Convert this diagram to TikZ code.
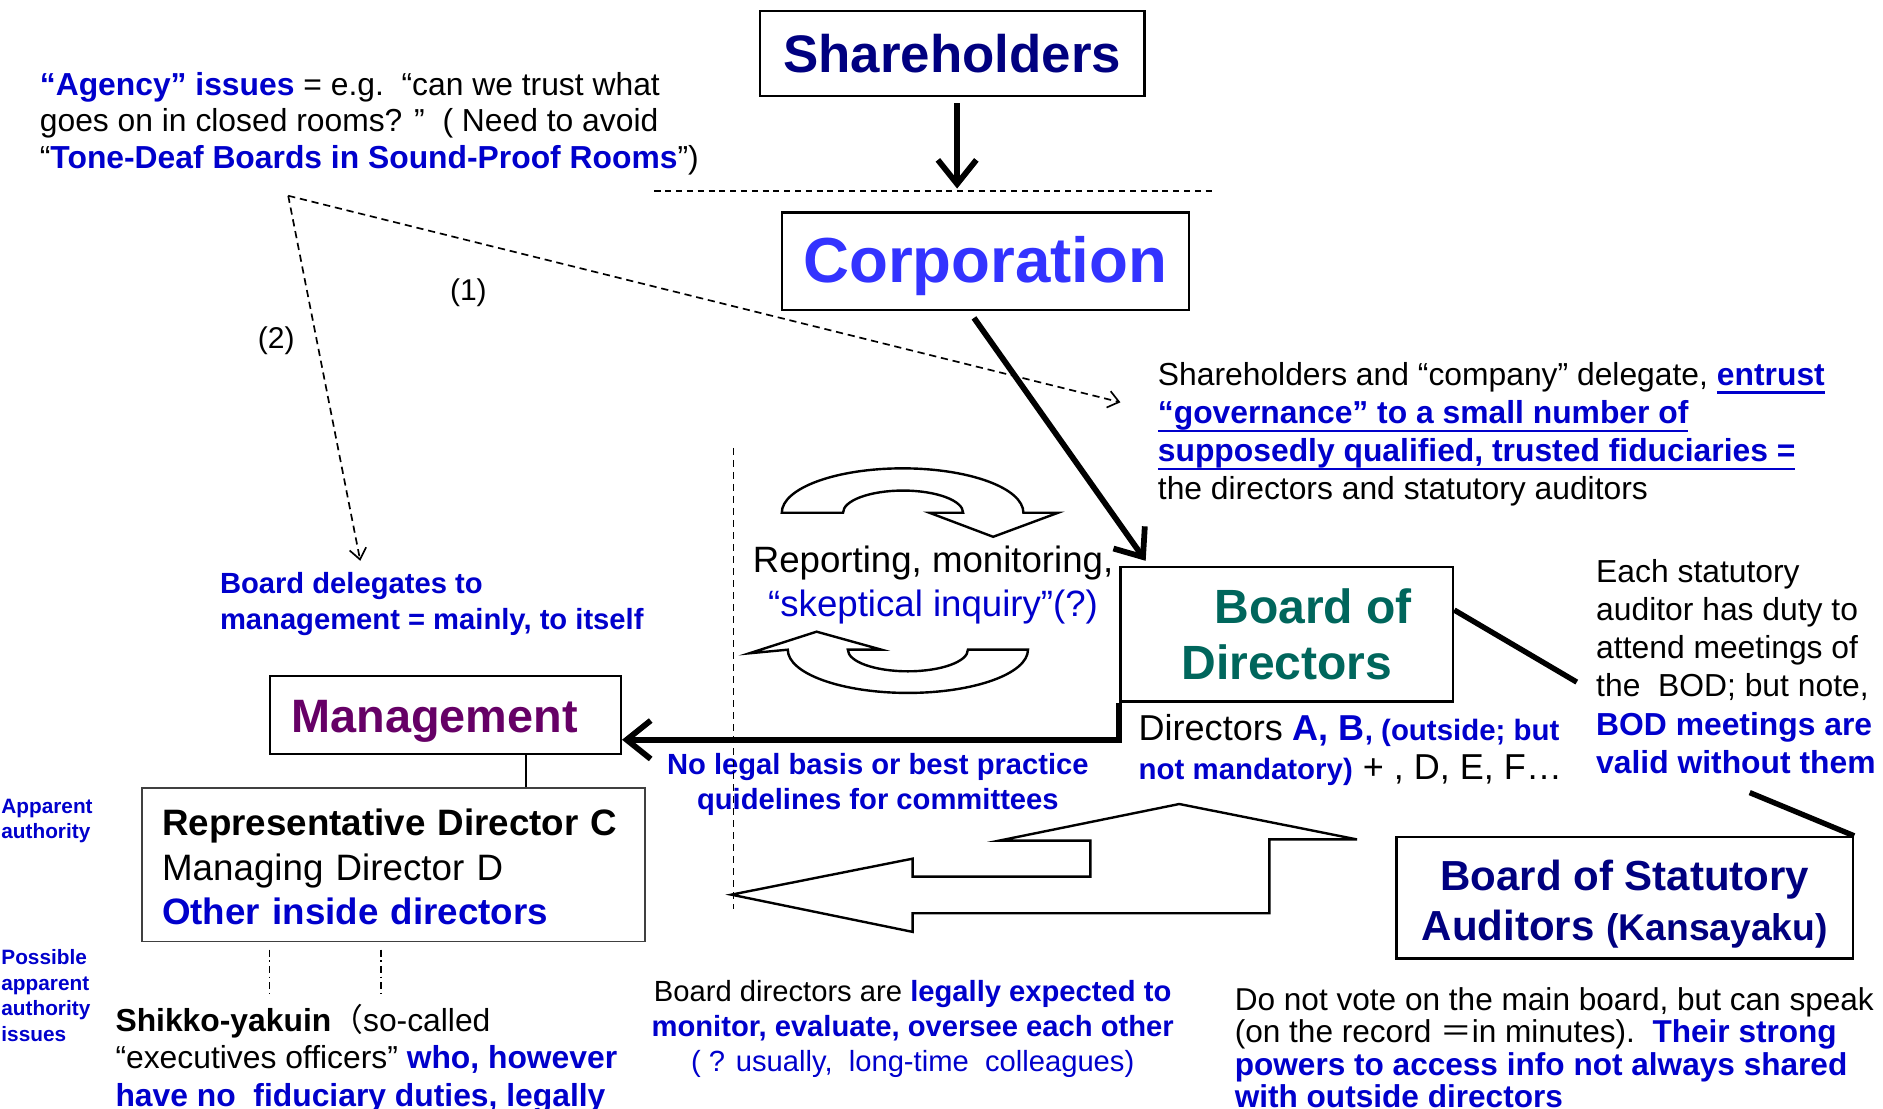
\documentclass[tikz,border=0pt]{standalone}
\usepackage{fontspec}
\setmainfont{Liberation Sans}
\newfontfamily\cjk{Noto Sans CJK JP}
\usetikzlibrary{arrows.meta}
\definecolor{navy}{RGB}{0,0,128}
\definecolor{corpblue}{RGB}{51,51,255}
\definecolor{txtblue}{RGB}{0,0,204}
\definecolor{bodteal}{RGB}{0,102,92}
\definecolor{mgmtpurple}{RGB}{102,0,102}
\newcommand{\setfs}[2]{\fontsize{#1}{#2}\selectfont}
\newcommand{\blb}[1]{\textcolor{txtblue}{\bfseries #1}}
\newcommand{\ubl}[1]{\textcolor{txtblue}{\bfseries\setbox0\hbox{#1}\rlap{\rule[-7pt]{\wd0}{1.8pt}}\box0}}

\begin{document}
\begin{tikzpicture}[x=1pt,y=-1pt,
  box/.style={draw, line width=2pt, inner sep=0pt},
  txt/.style={inner sep=0pt, align=left, anchor=west},
  thickarrow/.style={line width=4.8pt, -{Straight Barb[length=20pt,width=32pt]}},
  dasharrow/.style={line width=1.4pt, dash pattern=on 6pt off 4pt, -{Straight Barb[length=9pt,width=14pt]}},
  callout/.style={line width=4.5pt},
  hollow/.style={draw, line width=2pt, fill=white}]

\useasboundingbox (0,0) rectangle (1568,923);
\fill[white] (0,0) rectangle (1568,923);

% the boxes
\node[box, minimum width=320pt, minimum height=71pt, text=navy, font={\setfs{44}{50}\bfseries}] (shareholders) at (793,44.5) {Shareholders};
\node[box, minimum width=339pt, minimum height=81pt, text=corpblue, font={\setfs{53}{60}\bfseries}] (corporation) at (820.5,217.5) {\rule{0pt}{47pt}Corporation};
\node[box, minimum width=277pt, minimum height=112pt, text=bodteal, align=center, font={\setfs{40}{47}\bfseries}] (bod) at (1071.5,528) {\hspace*{44pt}Board of\\Directors};
\node[box, minimum width=292pt, minimum height=65pt, text=mgmtpurple, font={\setfs{39}{45}\bfseries}] (management) at (371,595.5) {\rule{0pt}{38pt}Management\hspace*{18pt}};
\node[box, draw=black!75, line width=1.5pt, minimum width=419pt, minimum height=128pt, text width=385pt, inner xsep=17pt, align=left, font={\setfs{30.6}{37}}] (repbox) at (327.5,720) {\rule{0pt}{26pt}{\bfseries Representative Director C}\\Managing Director D\\\blb{Other inside directors}};
\node[box, minimum width=380pt, minimum height=101pt, text=navy, align=center, font={\setfs{35}{41}\bfseries}] (auditors) at (1353,747.5) {\rule{0pt}{36pt}Board of Statutory\\Auditors {\setfs{31}{41}(Kansayaku)}};

% hollow arrows
\draw[hollow] (609,745) -- (760,715) -- (760,730) -- (908,730) -- (908,700) -- (832,700) -- (982,669.5) -- (1130,699) -- (1057,699) -- (1057,760.5) -- (760,760.5) -- (760,776) -- cycle;
\draw[hollow] (651,427) arc[start angle=180, end angle=360, x radius=100.6, y radius=37] -- (881,427) -- (827,447) -- (774,427) -- (802,427) arc[start angle=0, end angle=-180, x radius=50, y radius=18.5] -- cycle;
\draw[hollow] (856,541) arc[start angle=0, end angle=180, x radius=100, y radius=36] -- (624,544) -- (680,526) -- (734,541) -- (706,541) arc[start angle=180, end angle=0, x radius=50, y radius=18] -- cycle;

% texts
\node[txt, font={\setfs{26.5}{30.5}}] (agency) at (33,103) {\blb{“Agency” issues} = e.g.\ \ “can we trust what\\goes on in closed rooms? ”\ \ ( Need to avoid\\“\blb{Tone-Deaf Boards in Sound-Proof Rooms}”)};
\node[inner sep=0pt, font={\setfs{25}{30}}] (labelone) at (390,244) {(1)};
\node[inner sep=0pt, font={\setfs{25}{30}}] (labeltwo) at (230,284) {(2)};
\node[txt, font={\setfs{26.5}{31.7}}] (entrust) at (964,361.5) {Shareholders and “company” delegate, \ubl{entrust}\\\ubl{“governance” to a small number of}\\\ubl{supposedly qualified, trusted fiduciaries =}\\the directors and statutory auditors};
\node[inner sep=0pt, align=center, font={\setfs{30.5}{37}}] (reporting) at (777,487) {Reporting, monitoring,\\\textcolor{txtblue}{“skeptical inquiry”(?)}};
\node[txt, font={\setfs{30}{32}}] (directorsab) at (948,624.5) {Directors \blb{A, B}\blb{\setfs{24.5}{32}, (outside; but}\\\blb{\setfs{24.5}{32}not mandatory)} + , D, E, F…};
\node[inner sep=0pt, align=center, text=txtblue, font={\setfs{24.3}{29}\bfseries}] (nobasis) at (731,653.5) {No legal basis or best practice\\quidelines for committees};
\node[txt, text=txtblue, font={\setfs{24.3}{30}\bfseries}] (boarddeleg) at (183,503) {Board delegates to\\management = mainly, to itself};
\node[txt, text=txtblue, font={\setfs{17.3}{21}\bfseries}] (apparent) at (1,683.5) {Apparent\\authority};
\node[txt, text=txtblue, font={\setfs{17.3}{21.3}\bfseries}] (possible) at (1,829) {Possible\\apparent\\authority\\issues};
\node[txt, font={\setfs{26.5}{31.5}}] (shikko) at (96,881.5) {{\bfseries Shikko-yakuin}{\cjk （}so-called\\“executives officers” \blb{who, however}\\\blb{have no\ \ fiduciary duties, legally}};
\node[inner sep=0pt, align=center, font={\setfs{24.3}{29}}] (expected) at (760,857) {Board directors are \blb{legally expected to}\\\blb{monitor, evaluate, oversee each other}\\\textcolor{txtblue}{( ? usually,\ \ long-time\ \ colleagues)}};
\node[txt, font={\setfs{26.3}{27}}] (donotvote) at (1028,872.5) {Do not vote on the main board, but can speak\\(on the record {\cjk ＝}in minutes).\ \ \blb{Their strong}\\\blb{powers to access info not always shared}\\\blb{with outside directors}};
\node[txt, font={\setfs{26.5}{31.8}}] (eachaud) at (1329,555) {Each statutory\\auditor has duty to\\attend meetings of\\the\ \ BOD; but note,\\\blb{BOD meetings are}\\\blb{valid without them}};

% free ends
\coordinate (cutpt) at (797,157);
\coordinate (agencypt) at (240,163);
\coordinate (endone) at (933,335);
\coordinate (endtwo) at (300,467);
\coordinate (callA) at (1313,568);
\coordinate (callB) at (1457,660);

% lines and arrows
\draw[line width=1.2pt, dash pattern=on 5pt off 4pt] (545,159) -- (1010,159);
\draw[thickarrow, shorten <=5pt] (shareholders.south -| cutpt) -- (cutpt);
\draw[thickarrow, shorten <=7pt] ([xshift=-13.5pt]corporation.south) -- ([xshift=22pt,yshift=4pt]bod.north west);
\draw[thickarrow] (bod.south west) |- ([yshift=-20.5pt]management.east);
\draw[line width=1.3pt] ([xshift=67pt]management.south) -- ([xshift=67pt]management.south |- repbox.north);
\draw[callout] ([yshift=20pt]bod.east) -- (callA);
\draw[callout] (callB) -- (auditors.north east);
\draw[dasharrow] (agencypt) -- (endone);
\draw[dasharrow] (agencypt) -- (endtwo);
\draw[line width=1.2pt, dash pattern=on 6pt off 4pt] (611,373) -- (611,757);
\draw[line width=1.2pt, dash pattern=on 6pt off 3pt on 1.5pt off 3pt] ([xshift=107pt,yshift=-6pt]repbox.south west) -- ++(0,37);
\draw[line width=1.2pt, dash pattern=on 6pt off 3pt on 1.5pt off 3pt] ([xshift=200pt,yshift=-6pt]repbox.south west) -- ++(0,37);
\end{tikzpicture}
\end{document}
